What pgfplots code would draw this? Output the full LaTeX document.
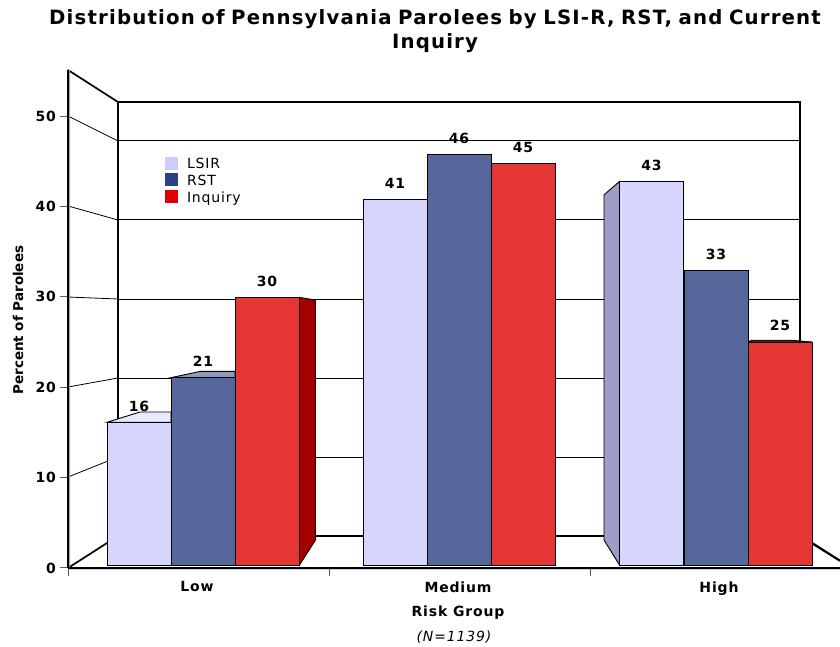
\documentclass[border=0pt]{standalone}
\usepackage{fontspec}
\setmainfont{DejaVu Sans}
\usepackage{pgfplots}
\pgfplotsset{compat=1.18}
\definecolor{lsirbar}{HTML}{D6D6FE}
\definecolor{lsirtop}{HTML}{E9E9FF}
\definecolor{lsirside}{HTML}{9C9CC4}
\definecolor{rstbar}{HTML}{56689B}
\definecolor{rsttop}{HTML}{8D99C0}
\definecolor{inqbar}{HTML}{E53535}
\definecolor{inqside}{HTML}{A50000}
\definecolor{inqtop}{HTML}{6E2A2A}
\definecolor{lsirkey}{HTML}{CCCCFF}
\definecolor{rstkey}{HTML}{2B4282}
\definecolor{inqkey}{HTML}{E00000}
\newfontfamily\spaced[LetterSpace=6]{DejaVu Sans}
\newcommand{\bfsize}{\fontsize{14}{16}\selectfont\spaced\bfseries}
\pgfplotsset{
  full page/.style={width=840pt,height=647pt,scale only axis,at={(0pt,0pt)},anchor=south west,
    xmin=0,xmax=840,hide axis,clip=false},
  face/.style={fill=#1,draw=black,line width=0.9pt,forget plot},
  front/.style={ybar,bar width=64pt,bar shift=0pt,fill=#1,draw=black,line width=0.9pt,forget plot,
    nodes near coords,
    /pgf/number format/assume math mode=true,
    every node near coord/.style={font=\bfsize,text=black,anchor=south,yshift=7.2pt}},
}
\begin{document}
\begin{tikzpicture}
\useasboundingbox (0pt,0pt) rectangle (840pt,647pt);

% Floor, back wall and grid, in page units with y running downward
\begin{axis}[full page,ymin=0,ymax=647,y dir=reverse]
  \pgfplotsinvokeforeach{141,220,299,378,457}{
    \addplot[black,line width=1pt,forget plot] coordinates {(118,#1)(800,#1)};}
  \addplot[black,line width=0.8pt,forget plot] coordinates {(68,116)(118,141)};
  \addplot[black,line width=0.8pt,forget plot] coordinates {(68,206)(118,220)};
  \addplot[black,line width=0.8pt,forget plot] coordinates {(68,297)(118,299)};
  \addplot[black,line width=0.8pt,forget plot] coordinates {(68,387)(118,378)};
  \addplot[black,line width=0.8pt,forget plot] coordinates {(68,477)(118,457)};
  \addplot[black,line width=1.7pt,forget plot] coordinates {(68,70)(118,102)(800,102)(800,536)(118,536)(118,102)};
  \addplot[black,line width=1.7pt,forget plot] coordinates {(68,568)(118,536)};
  \addplot[black,line width=1.7pt,forget plot] coordinates {(800,536)(840,561)};
  \addplot[lsirkey,line width=1.2pt,forget plot] coordinates {(68,569.4)(840,569.4)};
  \addplot[lsirside,line width=1pt,forget plot] coordinates {(69.2,70)(69.2,568)};
\end{axis}

% Percent scale, category ticks and chart titles
\begin{axis}[
  at={(68pt,79pt)},anchor=south west,width=772pt,height=498pt,scale only axis,
  xmin=68,xmax=840,ymin=0,ymax=55.09,
  axis x line*=bottom,axis y line*=left,
  axis line style={black,line width=1.1pt,-},
  xtick={68,329,590},xticklabels={},
  extra x ticks={197,458,719},extra x tick labels={Low,Medium,High},
  extra x tick style={major tick length=0pt,
    xticklabel style={yshift=-10pt}},
  ytick={0,10,20,30,40,50},
  tick style={draw=gray!70!black,line width=1pt},
  tick align=outside,major tick length=8.5pt,
  tick label style={font=\bfsize,/pgf/number format/assume math mode=true},
  xlabel={Risk Group},
  xlabel style={font=\bfsize,at={(axis description cs:0.5052,-0.0903)},anchor=center},
  ylabel={Percent of Parolees},
  ylabel style={font=\fontsize{13.5}{15}\selectfont\bfseries,at={(axis description cs:-0.0648,0.4976)},anchor=center},
  title={Distribution of Pennsylvania Parolees by LSI-R, RST, and Current\\Inquiry},
  title style={font=\fontsize{19.7}{24}\selectfont\spaced\bfseries,align=center,
    at={(axis description cs:0.4754,1.0660)},anchor=center,text width=840pt},
]
\end{axis}

% Bars: heights are the printed percentages, baseline at y = 0
\begin{axis}[full page,ymin=-9.193,ymax=63.34,
  legend style={at={(axis cs:164.5,45.85)},anchor=north west,draw=none,fill=none,
    font=\fontsize{14}{15}\spaced\selectfont,inner sep=0pt,outer sep=0pt,row sep=0.9pt,
    nodes={inner sep=0pt,text depth=3pt,text height=12.8pt,anchor=base west},
    /tikz/every odd column/.style={column sep=9.5pt}},
  legend cell align=left,
  legend image code/.code={\path[#1] (0pt,-1pt) rectangle (13pt,12pt);},
]
  \addlegendimage{fill=lsirkey,draw=none}
  \addlegendentry{LSIR}
  \addlegendimage{fill=rstkey,draw=none}
  \addlegendentry{RST}
  \addlegendimage{fill=inqkey,draw=none}
  \addlegendentry{Inquiry}

  % depth faces of the perspective boxes
  \addplot[face=lsirtop] coordinates {(107,16)(140,17.15)(171,17.15)(171,16)} --cycle;
  \addplot[face=rsttop] coordinates {(171,21)(200,21.7)(235,21.7)(235,21)} --cycle;
  \addplot[face=inqside] coordinates {(299.5,30)(315.5,29.7)(315.5,2.8)(299.5,0)} --cycle;
  \addplot[face=lsirside] coordinates {(619.5,43)(604,41.5)(604,2.8)(619.5,0)} --cycle;
  \addplot[face=inqtop] coordinates {(748,25)(752,25.2)(790,25.2)(812,25)} --cycle;
  \addplot[black,line width=1.7pt,forget plot] coordinates {(812,2.5)(840,0.5)};

  % front faces
  \addplot[front=lsirbar] coordinates {(139,16)(395,41)(651.5,43)};
  \addplot[front=rstbar] coordinates {(203,21)(459,46)(716,33)};
  \addplot[front=inqbar] coordinates {(267,30)(523,45)(780,25)};
\end{axis}

% sample size note
\begin{axis}[full page,ymin=0,ymax=647,y dir=reverse]
  \node[font=\fontsize{14}{16}\selectfont\spaced\itshape,anchor=center] at (axis cs:454,637.5) {(N=1139)};
\end{axis}
\end{tikzpicture}
\end{document}
